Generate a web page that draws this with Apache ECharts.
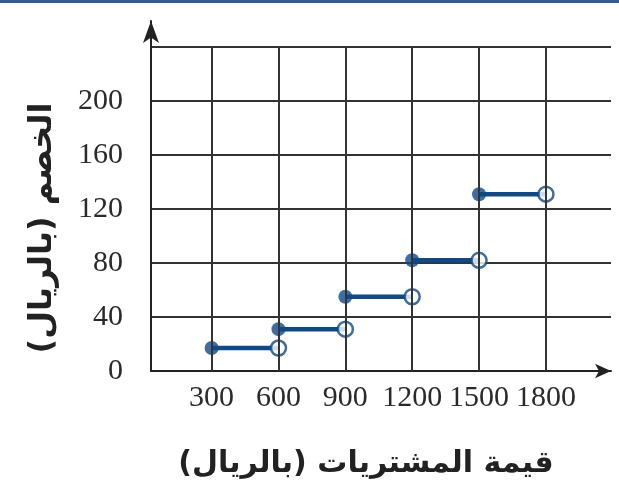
<!DOCTYPE html>
<html>
<head>
<meta charset="utf-8">
<script src="https://cdn.jsdelivr.net/npm/echarts@6/dist/echarts.min.js"></script>
<style>
  html, body { margin: 0; padding: 0; background: #fff; }
  #chart { width: 619px; height: 492px; }
  .top-rule { position: absolute; left: 0; top: 0; width: 619px; height: 3px; background: #2f5f96; z-index: 5; }
</style>
</head>
<body>
<div class="top-rule"></div>
<div id="chart"></div>
<script>
// step function: discount vs purchase value
var stepStarts = [300, 600, 900, 1200, 1500]
var stepEnds = [600, 900, 1200, 1500, 1800]
var discounts = [17, 31, 55, 82, 131]

var xTicks = [300, 600, 900, 1200, 1500, 1800]
var yTicks = [0, 40, 80, 120, 160, 200, 240]
var yLabels = [0, 40, 80, 120, 160, 200]

var xName = 'قيمة المشتريات (بالريال)'
var yName = 'الخصم (بالريال)'

var blue = '#0d4a8a'
var gridColor = '#333'

var chart = echarts.init(document.getElementById('chart'))

var stepSeries = stepStarts.map(function (x0, i) {
  return {
    type: 'line',
    data: [[x0, discounts[i]], [stepEnds[i], discounts[i]]],
    symbol: 'none',
    lineStyle: { color: blue, width: 4.5 },
    z: 3,
    silent: true
  }
})

chart.setOption({
  animation: false,
  grid: { left: 151, right: 8, top: 21, bottom: 121 },
  xAxis: {
    type: 'value',
    min: 28,
    max: 2092,
    axisLine: {
      lineStyle: { color: '#222', width: 2 },
      symbol: ['none', 'arrow'],
      symbolSize: [11, 16]
    },
    axisTick: { show: false, customValues: xTicks },
    splitLine: { show: false },
    axisLabel: {
      customValues: xTicks,
      interval: 0,
      hideOverlap: false,
      formatter: function (v) { return String(v) },
      margin: 12,
      fontFamily: 'Liberation Serif',
      fontSize: 30,
      color: '#2a2a2a'
    },
    name: xName,
    nameLocation: 'middle',
    nameGap: 78,
    nameTextStyle: {
      fontFamily: 'DejaVu Sans',
      fontWeight: 'bold',
      fontSize: 30,
      color: '#222',
      padding: [0, 30, 0, 0]
    }
  },
  yAxis: {
    type: 'value',
    min: 0,
    max: 259.3,
    axisLine: {
      lineStyle: { color: '#222', width: 2 },
      symbol: ['none', 'arrow'],
      symbolSize: [12, 22]
    },
    axisTick: { show: false, customValues: yTicks },
    splitLine: { show: true, lineStyle: { color: gridColor, width: 2 } },
    axisLabel: {
      customValues: yLabels,
      formatter: function (v) { return String(v) },
      margin: 28,
      fontFamily: 'Liberation Serif',
      fontSize: 30,
      color: '#2a2a2a'
    },
    name: yName,
    nameLocation: 'middle',
    nameRotate: 90,
    nameGap: 92,
    nameTextStyle: {
      fontFamily: 'DejaVu Sans',
      fontWeight: 'bold',
      fontSize: 32,
      color: '#222',
      padding: [0, 64, 0, 0]
    }
  },
  series: [
    {
      // vertical grid lines, stopping at the top horizontal line
      type: 'line',
      data: [],
      z: 1,
      silent: true,
      markLine: {
        silent: true,
        symbol: 'none',
        label: { show: false },
        lineStyle: { color: gridColor, width: 2, type: 'solid' },
        data: xTicks.map(function (x) {
          return [{ coord: [x, 0] }, { coord: [x, yTicks[yTicks.length - 1]] }]
        })
      }
    }
  ].concat(stepSeries).concat([
    {
      type: 'scatter',
      data: stepStarts.map(function (x, i) { return [x, discounts[i]] }),
      symbol: 'circle',
      symbolSize: 14,
      itemStyle: { color: blue },
      z: 4,
      silent: true
    },
    {
      type: 'scatter',
      data: stepEnds.map(function (x, i) { return [x, discounts[i]] }),
      symbol: 'circle',
      symbolSize: 15,
      itemStyle: { color: '#fff', borderColor: blue, borderWidth: 2.5 },
      z: 4,
      silent: true
    }
  ])
})
</script>
</body>
</html>
